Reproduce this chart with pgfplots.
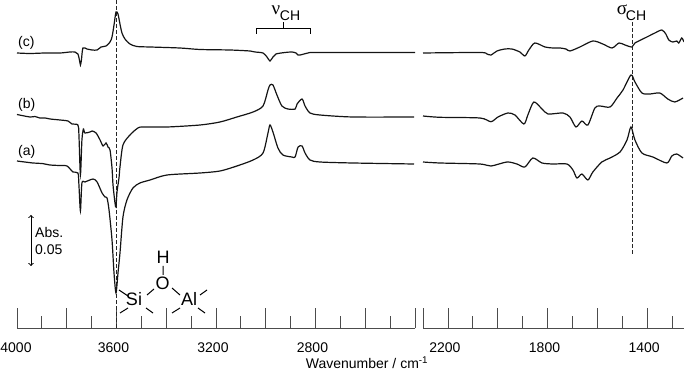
\documentclass[border=0pt]{standalone}
\usepackage{fontspec}
\setmainfont{Liberation Sans}
\newfontfamily\greekfont{Liberation Serif}
\usepackage{pgfplots}
\pgfplotsset{compat=1.18}

\definecolor{specline}{gray}{0.08}
\definecolor{axisline}{gray}{0.3}

% y values are read in picture pixels from the top, hence y dir=reverse
\pgfplotsset{
    specaxis/.style={
        scale only axis,
        height=328pt,
        ymin=0, ymax=328,
        y dir=reverse,
        x dir=reverse,
        axis y line=none,
        axis x line=bottom,
        axis line style={-, axisline, line width=0.8pt},
        tick style={axisline, line width=0.8pt},
        tick align=inside,
        major tick length=20pt,
        minor tick length=12pt,
        x tick label style={font=\fontsize{14}{15}\selectfont, yshift=-11pt, xshift=-3pt},
        clip=false,
    },
    spec/.style={specline, line width=1.2pt, smooth, tension=0.45, no marks},
    guide/.style={black!85, line width=0.7pt, dash pattern=on 4pt off 2pt, no marks},
}

\begin{document}
\begin{tikzpicture}[x=1pt,y=1pt]
\path[use as bounding box] (0,0) rectangle (684,371);

\begin{axis}[specaxis, at={(17pt,43pt)}, anchor=south west, width=398pt,
    xmin=2400, xmax=4000,
    xtick={4000,3800,3600,3400,3200,3000,2800,2600,2400},
    xticklabels={\hspace{4pt}4000,,3600,,3200,,2800,,},
    minor xtick={3900,3700,3500,3300,3100,2900,2700,2500},
]
\addplot[guide] coordinates {(3602,0) (3602,328)};
% (c)
\addplot[spec] coordinates {
(4000,53) (3948,53.5) (3887,53) (3827,53) (3787,52) (3767,52) (3755,54) (3749,60) (3745,65) (3741,60) (3735,48)
(3719,49) (3698,50) (3678,50) (3662,47) (3642,46) (3626,42) (3618,37) (3610,25) (3602,12) (3594,14) (3586,24)
(3578,33) (3566,39) (3546,44) (3518,46.5) (3465,47) (3345,48) (3264,49.5) (3144,50) (3063,51) (3043,52)
(3011,53) (2995,57) (2983,61) (2971,57) (2959,54) (2923,52.5) (2895,52) (2878,53) (2870,55) (2862,55)
(2830,53) (2810,52.5) (2661,52.5) (2400,52.5)
};
% (b)
\addplot[spec] coordinates {
(4000,114.5) (3948,117) (3928,116.5) (3908,118) (3887,118) (3867,119) (3847,119.5) (3827,120) (3795,121) (3779,124) (3755,125) (3751,135) (3745,175)
(3739,140) (3733,129) (3727,133) (3707,132) (3698,131) (3682,133) (3666,140) (3654,146) (3642,143) (3634,147)
(3626,150) (3618,168) (3614,185) (3606,203) (3602,207) (3598,192) (3590,178) (3586,167) (3574,145) (3546,135) (3514,128)
(3493,127) (3397,127) (3264,125) (3184,122) (3116,117) (3051,112) (3011,106) (2991,90) (2983,85) (2971,85)
(2955,95) (2935,106) (2911,109) (2882,109) (2874,104) (2854,99) (2842,106) (2822,113) (2782,115) (2649,117) (2404,117)
};
% (a)
\addplot[spec] coordinates {
(4000,161) (3936,163) (3900,163.5) (3867,165) (3830,165.5) (3799,166) (3775,172) (3755,173) (3751,185) (3745,211) (3739,183) (3727,182)
(3694,179) (3678,182) (3658,193) (3646,197) (3638,198) (3630,210) (3618,240) (3610,273) (3602,293) (3594,273) (3586,253)
(3574,217) (3558,200) (3534,188) (3506,183) (3465,180) (3397,175) (3264,173) (3184,171) (3116,166) (3051,160)
(3011,153) (2991,133) (2983,125) (2971,132) (2951,148) (2931,155) (2895,157) (2882,157) (2870,147) (2854,146)
(2842,153) (2822,160) (2782,162) (2649,163) (2404,164)
};
\end{axis}

\begin{axis}[specaxis, at={(423pt,43pt)}, anchor=south west, width=261pt,
    xmin=1252, xmax=2300,
    xtick={2300,2200,2000,1800,1600,1400},
    xticklabels={,2200,,1800,,1400},
    minor xtick={2100,1900,1700,1500,1300},
]
\addplot[guide] coordinates {(1459,22) (1459,255)};
% (c)
\addplot[spec] coordinates {
(2300,53) (2071,52.5) (2043,54) (2027,55) (2003,51) (1971,49) (1943,49) (1911,52) (1891,56) (1875,50) (1851,43)
(1810,47) (1778,48) (1750,48) (1726,49) (1710,51) (1670,47) (1618,41) (1578,44) (1541,48) (1513,43) (1489,45)
(1461,47) (1449,43) (1401,37) (1369,33) (1341,30) (1325,34) (1313,40) (1297,42) (1281,41) (1273,43) (1261,38) (1252,42)
};
% (b)
\addplot[spec] coordinates {
(2300,116) (2232,117.3) (2071,118) (2027,121.7) (1999,117) (1959,113) (1931,115) (1895,124) (1879,115) (1855,102)
(1822,109) (1798,114) (1738,113) (1710,117) (1686,127) (1662,121) (1638,125) (1610,108) (1590,106) (1549,107)
(1521,98) (1497,90) (1465,75) (1449,82) (1421,93) (1389,94) (1349,93) (1317,99) (1289,102) (1256,98)
};
% (a)
\addplot[spec] coordinates {
(2300,162) (2232,163) (2071,164) (2027,166) (1963,162) (1923,164) (1891,167) (1859,158) (1822,163) (1778,164)
(1722,164) (1698,170) (1682,178) (1662,174) (1638,180) (1618,172) (1582,162) (1549,158) (1509,152) (1481,140)
(1465,127) (1449,140) (1421,153) (1377,157) (1321,163) (1301,156) (1281,154) (1256,158)
};
\end{axis}

% annotations, in picture pixels measured from the top left
\begin{scope}[x=1pt,y=-1pt,yshift=371pt]
\tikzset{lbl/.style={inner sep=0pt, font=\fontsize{14}{15}\selectfont}}
\node[lbl, anchor=west] at (18,43) {(c)};
\node[lbl, anchor=west] at (18,105) {(b)};
\node[lbl, anchor=west] at (18,152) {(a)};

\node[lbl, anchor=west] at (35,233) {Abs.};
\node[lbl, anchor=west] at (35,250) {0.05};
\draw[<->, >=to, black, line width=1pt] (31,215) -- (31,266);

\draw[black, line width=0.9pt] (256,34) -- (256,28) -- (310,28) -- (310,34);
\draw[black, line width=0.9pt] (283,28) -- (283,22);
\node[inner sep=0pt, font=\greekfont\fontsize{19}{20}\selectfont] at (276,10) {ν};
\node[lbl] at (290,16) {CH};
\node[inner sep=0pt, font=\greekfont\fontsize{19}{20}\selectfont] at (622,10) {σ};
\node[lbl] at (636,16) {CH};

\tikzset{atom/.style={inner sep=0pt, font=\fontsize{18}{20}\selectfont}}
\node[atom] at (163,257) {H};
\node[atom] at (162.5,283) {O};
\node[atom] at (134,299) {Si};
\node[atom] at (189,299) {Al};
\draw[black, line width=1pt]
    (163,266) -- (163,275)
    (119,290) -- (128,296)
    (120,313) -- (128,308)
    (146,308) -- (153,313)
    (147,295) -- (154,289)
    (172,288) -- (180,295)
    (200,295) -- (207,290)
    (172,313) -- (180,308)
    (198,308) -- (205,313);

\node[lbl, anchor=center] at (367,363) {Wavenumber / cm\textsuperscript{-1}};
\end{scope}
\end{tikzpicture}
\end{document}
